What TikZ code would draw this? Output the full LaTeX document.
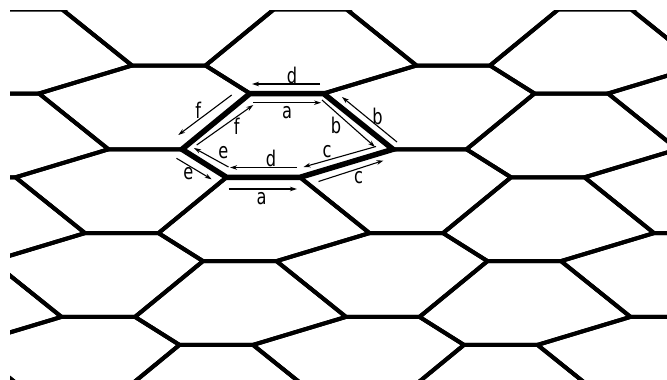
\documentclass[tikz,border=0pt]{standalone}
\usepackage{fontspec}
\usepackage{graphicx}
\setmainfont{DejaVu Sans}
\usetikzlibrary{arrows.meta}
\newcommand\stretchlbl[1]{\scalebox{0.9}[1.2]{#1}}
\begin{document}
\begin{tikzpicture}[x=1pt,y=-1pt,
  grid/.style={line width=4pt, line join=miter},
  mainhex/.style={line width=5.5pt, line join=miter},
  lab/.style={font=\fontsize{18}{18}\selectfont, inner sep=0pt},
  arr/.style={line width=1.1pt, -{Stealth[length=7pt,width=4.5pt]}}]
\useasboundingbox (0,0) rectangle (667,380);
\begin{scope}
\clip (10,10.5) rectangle (667,380);
\foreach \i in {-1,...,3}{
 \foreach \j in {-1,...,4}{
  \begin{scope}[shift={({\i*284.5-\j*23.5},{\j*83.8})}]
   \draw[grid] (250,93.5) -- (323.5,93.5) -- (393,149.3) -- (300,177.3) -- (226.5,177.3) -- (182,149.3) -- cycle;
   \draw[grid] (182,149.3) -- (108.5,149.3) -- (39,93.5) -- (132,65.5) -- (205.5,65.5) -- (250,93.5) -- cycle;
  \end{scope}
 }
}
\end{scope}
% central hexagon
\coordinate (TL) at (250,93.5);
\coordinate (TR) at (323.5,93.5);
\coordinate (R) at (393,149.3);
\coordinate (BR) at (300,177.3);
\coordinate (BL) at (226.5,177.3);
\coordinate (L) at (182,149.3);
\draw[mainhex] (TL) -- (TR) -- (R) -- (BR) -- (BL) -- (L) -- cycle;
% arrows and labels
\draw[arr] (320,84) -- (252,84);
\node[lab] (ld1) at (292,75) {\stretchlbl{d}};
\draw[arr] (253,102.7) -- (321,102.7);
\node[lab] (la1) at (287,113) {\stretchlbl{a}};
\draw[arr] (397,142) -- (342,97);
\node[lab] (lb1) at (377.5,116) {\stretchlbl{b}};
\draw[arr] (322,100) -- (375,147);
\node[lab] (lb2) at (336,125) {\stretchlbl{b}};
\draw[arr] (376,146.5) -- (303.5,167);
\node[lab] (lc1) at (327,152) {\stretchlbl{c}};
\draw[arr] (318.5,181.5) -- (383.5,160.5);
\node[lab] (lc2) at (358.5,177.5) {\stretchlbl{c}};
\draw[arr] (297,167.5) -- (230,167.5);
\node[lab] (ld2) at (271,158.3) {\stretchlbl{d}};
\draw[arr] (228.5,189) -- (297,189);
\node[lab] (la2) at (261.7,199) {\stretchlbl{a}};
\draw[arr] (228.5,167) -- (194,148);
\node[lab] (le1) at (223.3,153) {\stretchlbl{e}};
\draw[arr] (176.5,158.3) -- (211.7,179.3);
\node[lab] (le2) at (188.3,173.3) {\stretchlbl{e}};
\draw[arr] (196.7,145) -- (253.3,105);
\node[lab] (lf1) at (236.7,126.7) {\stretchlbl{f}};
\draw[arr] (231.7,95) -- (178.3,135);
\node[lab] (lf2) at (198.3,110) {\stretchlbl{f}};
\end{tikzpicture}
\end{document}
